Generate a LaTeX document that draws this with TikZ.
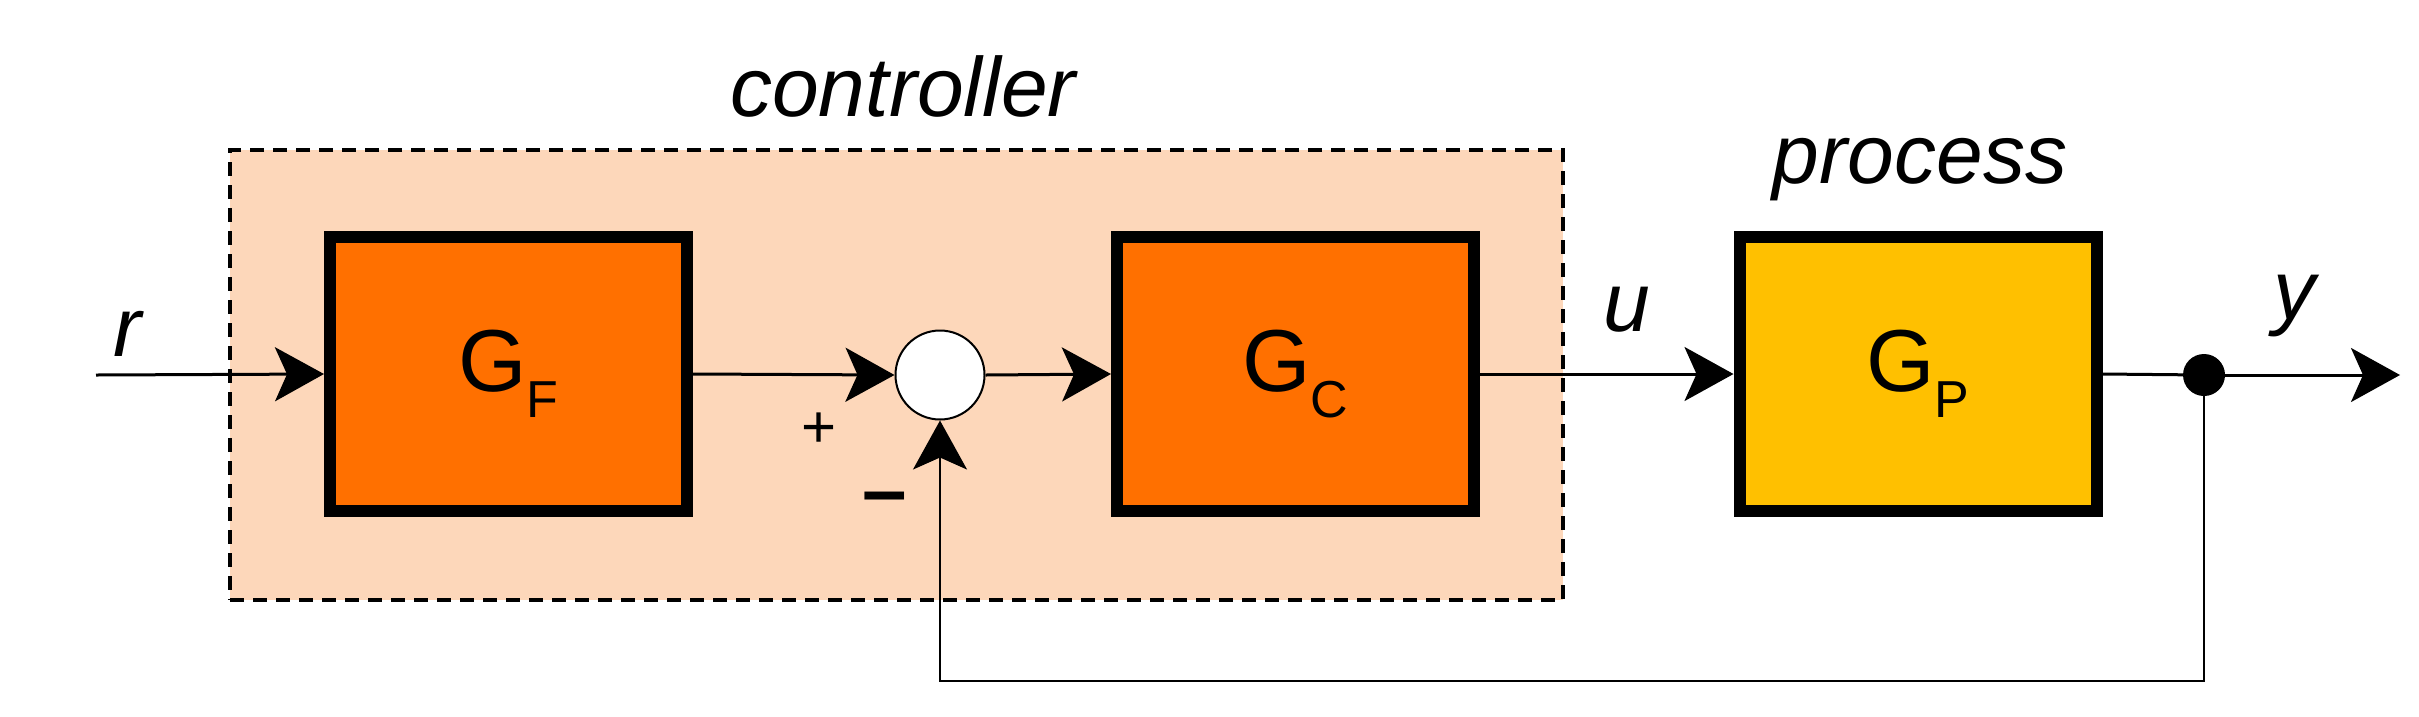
\documentclass[tikz,border=0pt]{standalone}
\usepackage{fontspec}
\setmainfont{Liberation Sans}
\usetikzlibrary{arrows.meta}
\definecolor{peach}{HTML}{FDD7BA}
\definecolor{orng}{HTML}{FF7000}
\definecolor{yel}{HTML}{FFC000}
\begin{document}
\begin{tikzpicture}[x=1pt,y=-1pt,
  blk/.style={draw=black,line width=12pt,minimum width=357pt,minimum height=274pt,inner sep=0pt},
  sig/.style={line width=3pt,-{Stealth[length=49pt,width=54pt,inset=12pt]}},
  lbl/.style={font=\fontsize{84}{100}\selectfont\itshape,anchor=base},
  gt/.style={font=\fontsize{88}{100}\selectfont}]
\useasboundingbox (0,0) rectangle (2419,716);
\node[draw=black,dashed,line width=4pt,dash pattern=on 14pt off 9pt,fill=peach,minimum width=1333pt,minimum height=450pt,inner sep=0pt] (ctrl) at (896.5,375) {};
\node[blk,fill=orng] (gf) at (508.5,374) {};
\node[blk,fill=orng] (gc) at (1295.5,374) {};
\node[blk,fill=yel] (gp) at (1918,374) {};
\node[gt] at (gf) {G\raisebox{-0.3em}{\fontsize{52}{60}\selectfont F}};
\node[gt] at (gc) {G\raisebox{-0.3em}{\fontsize{52}{60}\selectfont C}};
\node[gt] at (gp) {G\raisebox{-0.3em}{\fontsize{52}{60}\selectfont P}};
\node[circle,draw=black,line width=2pt,fill=white,minimum size=89pt,inner sep=0pt] (sum) at (940,375) {};
\node[circle,fill=black,minimum size=42pt,inner sep=0pt] (dot) at (2204,375) {};
\coordinate (in) at (96,375);
\coordinate (out) at (2400,375);
\coordinate (fb1) at (2204,681);
\coordinate (fb2) at (940,681);
\draw[sig] (in) -- (gf.west);
\draw[sig] (gf.east) -- (sum.west);
\draw[sig] (sum.east) -- (gc.west);
\draw[sig] (gc.east) -- (gp.west);
\draw[line width=3pt] (gp.east) -- (dot);
\draw[sig] (dot) -- (out);
\draw[line width=2pt,-{Stealth[length=49pt,width=54pt,inset=12pt]}] (dot) -- (fb1) -- (fb2) -- (sum.south);
\node[lbl] at (903,116) {controller};
\node[lbl] at (1920,183) {process};
\node[lbl] at (127,356) {r};
\node[lbl] at (1627,331) {u};
\node[lbl] at (2294,319) {y};
\node[font=\fontsize{60}{70}\selectfont] at (819,430) {+};
\node[font=\fontsize{80}{90}\selectfont\bfseries] at (885,505) {–};
\end{tikzpicture}
\end{document}
